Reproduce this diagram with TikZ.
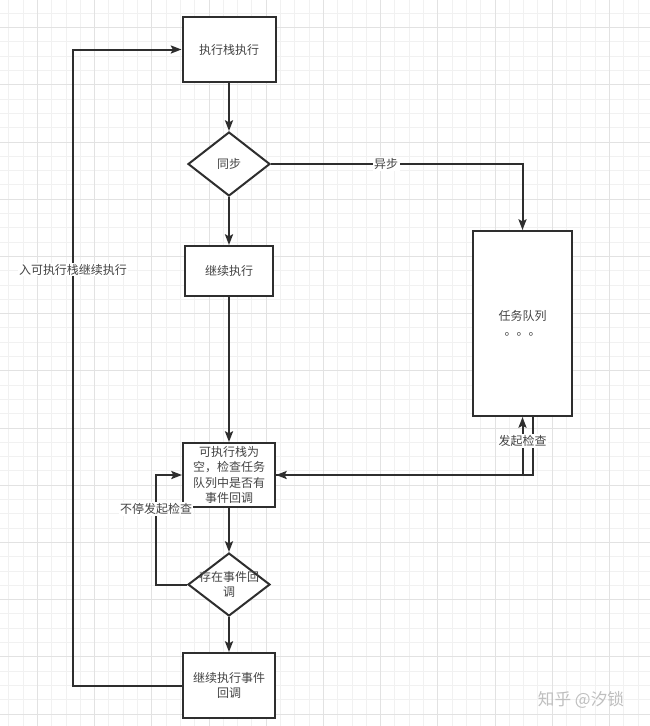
\documentclass[tikz,border=0pt]{standalone}
\usepackage{fontspec}
\newfontfamily\cjk{Noto Sans CJK SC}
\usetikzlibrary{arrows.meta,shapes.geometric}
\definecolor{linec}{HTML}{2E2E2E}
\definecolor{textc}{HTML}{444444}
\definecolor{gridminor}{HTML}{F1F1F1}
\definecolor{gridmajor}{HTML}{E2E2E2}
\tikzset{
    box/.style={draw=linec, line width=1.5pt, fill=white, inner sep=2pt,
        font=\cjk\fontsize{9}{11.5}\selectfont, text=textc, align=center},
    decision/.style={box, diamond, inner sep=0pt},
    flow/.style={draw=linec, line width=1.5pt, -{Stealth[length=8pt,width=6pt,inset=1.5pt]}},
    edgelabel/.style={fill=white, inner sep=1pt, text=textc,
        font=\cjk\fontsize{9}{11.5}\selectfont}
}
\begin{document}
\begin{tikzpicture}[x=0.75pt,y=-0.75pt]
    \useasboundingbox (0,0) rectangle (650,726);
    \fill[white] (0,0) rectangle (650,726);

    % Background grid
    \begin{scope}
    \clip (0,0) rectangle (650,726);
    \foreach \i in {0,...,45} \draw[gridminor, line width=0.5pt] (8.7+14.3*\i,0) -- ++(0,726);
    \foreach \i in {0,...,49} \draw[gridminor, line width=0.5pt] (0,13.2+14.3*\i) -- ++(650,0);
    \foreach \i in {0,...,11} \draw[gridmajor, line width=0.6pt] (37.3+57.2*\i,0) -- ++(0,726);
    \foreach \i in {0,...,12} \draw[gridmajor, line width=0.6pt] (0,27.5+57.2*\i) -- ++(650,0);
    \end{scope}

    % Nodes
    \node[box, minimum width=69.75pt, minimum height=48.75pt] (exec) at (229,49.5) {执行栈执行};
    \node[decision, minimum width=61.5pt, minimum height=48pt] (sync) at (229,164) {同步};
    \node[box, minimum width=66pt, minimum height=37.5pt] (cont) at (229,271) {继续执行};
    \node[box, minimum width=74.25pt, minimum height=138.75pt] (queue) at (522.5,323.5) {任务队列\\。。。};
    \node[box, minimum width=69pt, minimum height=48pt] (check) at (229,475) {可执行栈为\\空，检查任务\\队列中是否有\\事件回调};
    \node[decision, minimum width=61.5pt, minimum height=47.25pt] (exists) at (229,584.5) {};
    \node[align=center, inner sep=0pt, text=textc, font=\cjk\fontsize{9}{11.5}\selectfont] (existstext) at (exists) {存在事件回\\调};
    \node[box, minimum width=69pt, minimum height=48.75pt] (final) at (229,685.5) {继续执行事件\\回调};

    % Corner points
    \coordinate (backl) at (73,685.5);
    \coordinate (loopl) at (156,584.5);

    % Connectors
    \draw[flow] (exec) -- (sync);
    \draw[flow] (sync) -- (cont);
    \draw[flow] (sync.east) -| node[edgelabel, pos=0.229] {异步} (queue.north);
    \draw[flow] (cont) -- (check);
    \draw[flow] ([xshift=8pt]queue.south) |- (check.east);
    \draw[flow] (check.east) -| node[edgelabel, pos=0.795] {发起检查} (queue.south);
    \draw[flow] (check) -- (exists);
    \draw[flow] (exists.west) -- (loopl) |- node[edgelabel, pos=0.345] {不停发起检查} (check.west);
    \draw[flow] (exists) -- (final);
    \draw[flow] (final.west) -- (backl) |- node[edgelabel, pos=0.327] {入可执行栈继续执行} (exec.west);

    % Watermark
    \node[text=gray!50, font=\cjk\fontsize{12.5}{12.5}\selectfont] (mark) at (581,700) {知乎 @汐锁};
\end{tikzpicture}
\end{document}
